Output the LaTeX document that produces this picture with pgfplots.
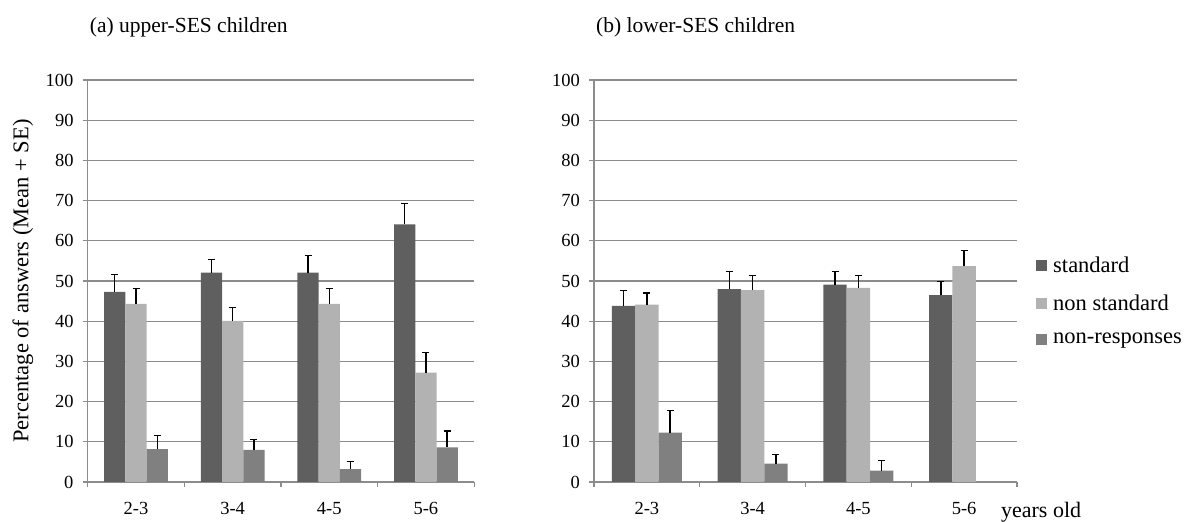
\documentclass[border=0pt]{standalone}
\usepackage{fontspec}
\setmainfont{Liberation Serif}
\usepackage{pgfplots}
\pgfplotsset{compat=1.18}
\definecolor{cstd}{HTML}{5F5F5F}
\definecolor{cns}{HTML}{B2B2B2}
\definecolor{cnr}{HTML}{808080}
\definecolor{cgrid}{HTML}{8C8C8C}
\pgfplotsset{
  myax/.style={
    scale only axis, height=402pt,
    xmin=-0.5, xmax=3.5, ymin=0, ymax=100,
    ytick={0,10,...,100},
    xtick={-0.5,0.5,1.5,2.5,3.5}, xticklabels={},
    extra x ticks={0,1,2,3},
    extra x tick labels={2-3,3-4,4-5,5-6},
    extra x tick style={major tick length=0pt, grid=none,
      tick label style={yshift=-17pt}},
    axis x line*=bottom, axis y line*=left,
    axis line style={cgrid, line width=1.3pt},
    tick align=outside, major tick length=5pt,
    tick style={cgrid, line width=1.3pt},
    ymajorgrids, grid style={cgrid, line width=1.3pt},
    /pgf/number format/assume math mode=true,
    tick label style={font=\fontsize{18.5}{18.5}\selectfont},
    yticklabel style={inner sep=0pt, xshift=-9pt},
    title style={at={(axis description cs:0,1)}, anchor=west, inner sep=0pt,
      xshift=2pt, yshift=47pt, font=\fontsize{21.5}{21.5}\selectfont},
    clip=false,
  },
  bars/.style={ybar, bar width=0.22, bar shift=0, draw=none,
    error bars/y dir=plus, error bars/y explicit,
    error bars/error bar style={black, line width=1.3pt},
    error bars/error mark options={black, line width=1.3pt, mark size=3.5pt, rotate=90}},
}
\begin{document}
\begin{tikzpicture}
\useasboundingbox (0,0) rectangle (1184pt,522pt);
\begin{axis}[myax, at={(87.7pt,40pt)}, anchor=south west, width=386.5pt,
  title={(a) upper-SES children},
  ylabel={Percentage of answers (Mean + SE)},
  every axis y label/.style={at={(axis description cs:-0.168,0.5)}, rotate=90,
    anchor=center, font=\fontsize{22.5}{22.5}\selectfont},
]
% standard
\addplot[bars, fill=cstd] coordinates {
  (-0.22,47.3) += (0,4.4) (0.78,52.1) += (0,3.3) (1.78,52.1) += (0,4.2) (2.78,64.1) += (0,5.1)};
% non standard
\addplot[bars, fill=cns] coordinates {
  (0,44.3) += (0,3.8) (1,40.1) += (0,3.3) (2,44.3) += (0,3.8) (3,27.2) += (0,5.0)};
% non-responses
\addplot[bars, fill=cnr] coordinates {
  (0.22,8.2) += (0,3.3) (1.22,8.0) += (0,2.5) (2.22,3.2) += (0,1.9) (3.22,8.6) += (0,4.1)};
\end{axis}
\begin{axis}[myax, at={(594pt,40pt)}, anchor=south west, width=423pt,
  title={(b) lower-SES children},
  xlabel={years old},
  every axis x label/.style={at={(axis description cs:1.057,-0.075)},
    anchor=center, font=\fontsize{22}{22}\selectfont},
  legend style={at={(axis description cs:1.045,0.565)}, anchor=north west,
    draw=none, fill=none, inner sep=0pt, row sep=17pt,
    font=\fontsize{22.5}{22.5}\selectfont,
    /tikz/every odd column/.append style={column sep=4pt}},
  legend cell align=left,
  legend image code/.code={\fill[#1, draw=none] (0pt,-5.5pt) rectangle (11pt,5.5pt);},
]
\addplot[bars, fill=cstd] coordinates {
  (-0.22,43.8) += (0,3.8) (0.78,48.0) += (0,4.4) (1.78,49.1) += (0,3.3) (2.78,46.5) += (0,3.4)};
\addplot[bars, fill=cns] coordinates {
  (0,44.1) += (0,2.9) (1,47.7) += (0,3.7) (2,48.3) += (0,3.1) (3,53.7) += (0,3.9)};
\addplot[bars, fill=cnr] coordinates {
  (0.22,12.3) += (0,5.5) (1.22,4.6) += (0,2.2) (2.22,2.8) += (0,2.5)};
\legend{standard, non standard, non-responses}
\end{axis}
\end{tikzpicture}
\end{document}
